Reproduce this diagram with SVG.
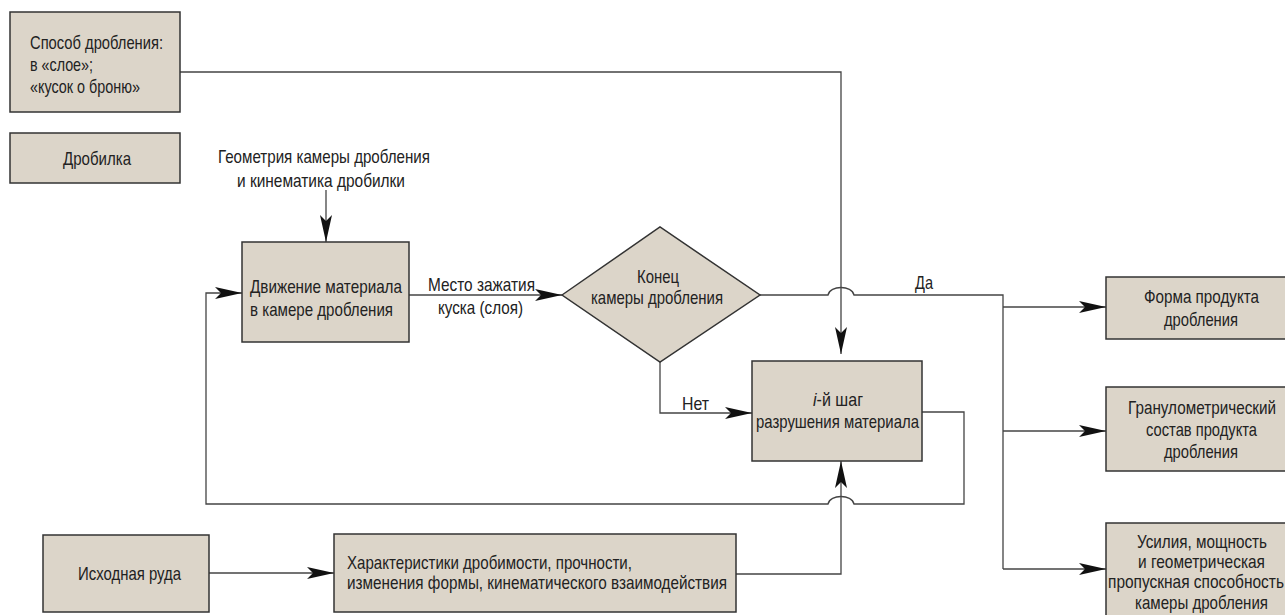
<svg xmlns="http://www.w3.org/2000/svg" width="1285" height="615" viewBox="0 0 1285 615">
<style>
.box{fill:#dcd5c9;stroke:#333;stroke-width:1.5}
.ln{fill:none;stroke:#444;stroke-width:1.3}
text{font-family:"Liberation Sans",Arial,sans-serif;font-size:18.5px;fill:#222}
</style>
<defs>
<marker id="arr" viewBox="0 0 27 12" refX="27" refY="6" markerWidth="27" markerHeight="12" markerUnits="userSpaceOnUse" orient="auto">
<path d="M0,0 L27,6 L0,12 L6,6 z" fill="#111"/>
</marker>
</defs>
<rect width="1285" height="615" fill="#fff"/>
<g id="connectors">
<path class="ln" d="M180,72 H841 V354" marker-end="url(#arr)"/>
<path class="ln" d="M326,190 V242" marker-end="url(#arr)"/>
<path class="ln" d="M922,412 H964 V504 H854 C852,494 830,494 828,504 H206 V293 H242" marker-end="url(#arr)"/>
<path class="ln" d="M409,295 H562" marker-end="url(#arr)"/>
<path class="ln" d="M760,295 H828 C830,285 852,285 854,295 H1003 V569"/>
<path class="ln" d="M1003,307 H1106" marker-end="url(#arr)"/>
<path class="ln" d="M1003,431 H1106" marker-end="url(#arr)"/>
<path class="ln" d="M1003,569 H1106" marker-end="url(#arr)"/>
<path class="ln" d="M660,362 V413 H752" marker-end="url(#arr)"/>
<path class="ln" d="M209,573 H334" marker-end="url(#arr)"/>
<path class="ln" d="M736,574 H841 V461" marker-end="url(#arr)"/>
<text x="428" y="291" textLength="107" lengthAdjust="spacingAndGlyphs">Место зажатия</text>
<text x="438" y="314" textLength="85" lengthAdjust="spacingAndGlyphs">куска (слоя)</text>
<text x="682" y="410" textLength="27" lengthAdjust="spacingAndGlyphs">Нет</text>
<text x="915" y="289" textLength="18" lengthAdjust="spacingAndGlyphs">Да</text>
<text x="218" y="163" textLength="212" lengthAdjust="spacingAndGlyphs">Геометрия камеры дробления</text>
<text x="237" y="187" textLength="168" lengthAdjust="spacingAndGlyphs">и кинематика дробилки</text>
</g>
<g id="sposob">
<rect class="box" x="10" y="12" width="170" height="100"/>
<text x="30" y="49" textLength="133" lengthAdjust="spacingAndGlyphs">Способ дробления:</text>
<text x="30" y="71" textLength="63" lengthAdjust="spacingAndGlyphs">в «слое»;</text>
<text x="30" y="93" textLength="110" lengthAdjust="spacingAndGlyphs">«кусок о броню»</text>
</g>
<g id="drobilka">
<rect class="box" x="10" y="133" width="170" height="50"/>
<text x="63" y="165" textLength="68" lengthAdjust="spacingAndGlyphs">Дробилка</text>
</g>
<g id="dvizhenie">
<rect class="box" x="242" y="242" width="167" height="100"/>
<text x="250" y="293" textLength="152" lengthAdjust="spacingAndGlyphs">Движение материала</text>
<text x="250" y="316" textLength="143" lengthAdjust="spacingAndGlyphs">в камере дробления</text>
</g>
<g id="konec">
<polygon class="box" points="562,295 660,227 760,295 660,362"/>
<text x="637" y="283" textLength="42" lengthAdjust="spacingAndGlyphs">Конец</text>
<text x="591" y="304" textLength="132" lengthAdjust="spacingAndGlyphs">камеры дробления</text>
</g>
<g id="shag">
<rect class="box" x="752" y="361" width="170" height="100"/>
<text x="813" y="406" textLength="50" lengthAdjust="spacingAndGlyphs"><tspan font-style="italic">i</tspan>-й шаг</text>
<text x="756" y="428" textLength="163" lengthAdjust="spacingAndGlyphs">разрушения материала</text>
</g>
<g id="forma">
<rect class="box" x="1106" y="277" width="190" height="62"/>
<text x="1144" y="303" textLength="115" lengthAdjust="spacingAndGlyphs">Форма продукта</text>
<text x="1164" y="326" textLength="74" lengthAdjust="spacingAndGlyphs">дробления</text>
</g>
<g id="granulo">
<rect class="box" x="1106" y="387" width="190" height="84"/>
<text x="1128" y="414" textLength="148" lengthAdjust="spacingAndGlyphs">Гранулометрический</text>
<text x="1146" y="436" textLength="111" lengthAdjust="spacingAndGlyphs">состав продукта</text>
<text x="1164" y="458" textLength="74" lengthAdjust="spacingAndGlyphs">дробления</text>
</g>
<g id="usiliya">
<rect class="box" x="1106" y="523" width="190" height="100"/>
<text x="1137" y="548" textLength="130" lengthAdjust="spacingAndGlyphs">Усилия, мощность</text>
<text x="1138" y="568" textLength="127" lengthAdjust="spacingAndGlyphs">и геометрическая</text>
<text x="1108" y="588" textLength="176" lengthAdjust="spacingAndGlyphs">пропускная способность</text>
<text x="1135" y="609" textLength="133" lengthAdjust="spacingAndGlyphs">камеры дробления</text>
</g>
<g id="ruda">
<rect class="box" x="43" y="535" width="166" height="77"/>
<text x="78" y="580" textLength="103" lengthAdjust="spacingAndGlyphs">Исходная руда</text>
</g>
<g id="harakt">
<rect class="box" x="334" y="534" width="402" height="78"/>
<text x="347" y="569" textLength="285" lengthAdjust="spacingAndGlyphs">Характеристики дробимости, прочности,</text>
<text x="347" y="589" textLength="380" lengthAdjust="spacingAndGlyphs">изменения формы, кинематического взаимодействия</text>
</g>
</svg>
